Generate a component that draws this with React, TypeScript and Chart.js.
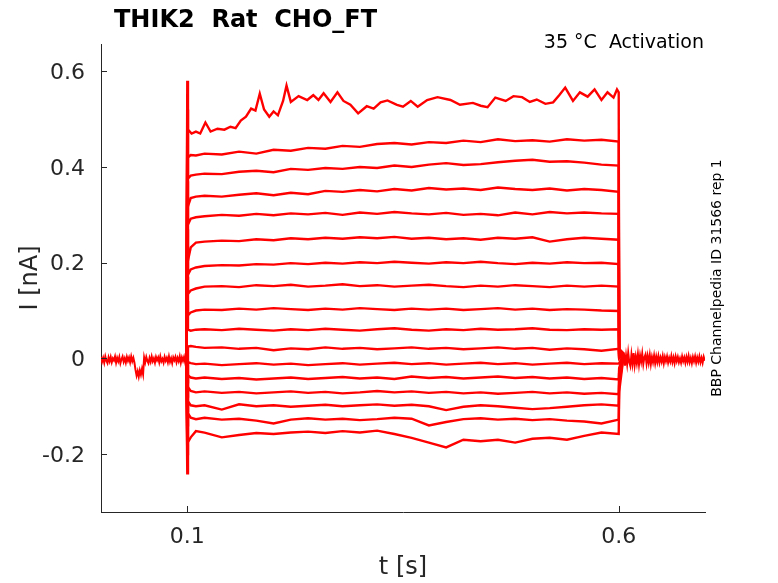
import { useEffect, useRef } from "react";
import { Chart, registerables } from "chart.js";

Chart.register(...registerables);

// ---- holding current before and after the voltage step (sample period 1.25 ms) ----
const holdSample = 0.00125;
const holdPreStart = 0;
const holdPreCurrent = [
  0.003, -0.007, 0.001, -0.009, 0.004, -0.005, -0.01, 0.002, -0.006, 0.003,
  -0.008, 0.0, -0.004, 0.004, -0.009, 0.001, -0.006, 0.003, -0.01, -0.002,
  0.004, -0.007, 0.0, -0.009, 0.003, -0.005, 0.002, -0.008, 0.004, -0.006,
  0.001, -0.009, -0.024, -0.036, -0.027, -0.038, -0.025, -0.034, -0.022, -0.033,
  0.002, -0.008, 0.003, -0.005, -0.01, 0.001, -0.007, 0.004, -0.006, 0.0,
  -0.009, 0.003, -0.004, 0.002, -0.008, 0.004, -0.006, -0.001, -0.009, 0.003,
  -0.005, 0.001, -0.008, 0.004, -0.007, 0.0, -0.01, 0.002, -0.004, 0.003,
  -0.008, 0.001, -0.006, 0.004, -0.009, 0.002, -0.005, 0.003, -0.008, 0.001,
];
const holdPostStart = 0.606;
const holdPostCurrent = [
  0.01, -0.015, 0.006, -0.012, 0.012, -0.008, -0.016, 0.008, -0.011, 0.011,
  -0.014, 0.004, -0.01, 0.009, -0.013, 0.006, -0.007, 0.01, -0.012, 0.002,
  0.008, -0.011, 0.005, -0.009, 0.007, -0.012, 0.003, -0.008, 0.006, -0.01,
  0.004, -0.008, 0.005, -0.009, 0.002, -0.007, 0.005, -0.01, 0.003, -0.006,
  0.004, -0.009, 0.001, -0.007, 0.005, -0.008, 0.002, -0.01, 0.004, -0.006,
  0.003, -0.008, 0.0, -0.009, 0.004, -0.006, 0.002, -0.009, 0.003, -0.007,
  0.005, -0.008, 0.001, -0.01, 0.003, -0.006, 0.004, -0.009, 0.002, -0.007,
  0.004, -0.008, 0.001, -0.009, 0.003, -0.005,
];

// ---- top sweep, sampled on its own time base ----
const sweep1Times = [0.1008, 0.105, 0.11, 0.115, 0.121, 0.127, 0.135, 0.143, 0.15, 0.156, 0.162, 0.168, 0.174, 0.179, 0.184, 0.189, 0.195, 0.2, 0.205, 0.211, 0.215, 0.22, 0.229, 0.239, 0.246, 0.252, 0.258, 0.266, 0.274, 0.281, 0.289, 0.298, 0.308, 0.316, 0.324, 0.332, 0.343, 0.35, 0.359, 0.367, 0.378, 0.39, 0.405, 0.416, 0.431, 0.44, 0.448, 0.457, 0.469, 0.478, 0.488, 0.497, 0.505, 0.515, 0.524, 0.531, 0.538, 0.547, 0.555, 0.564, 0.572, 0.58, 0.587, 0.594, 0.598, 0.6];
const sweep1Current = [0.478, 0.47, 0.474, 0.47, 0.493, 0.474, 0.48, 0.478, 0.484, 0.481, 0.497, 0.505, 0.522, 0.518, 0.553, 0.52, 0.505, 0.516, 0.508, 0.538, 0.57, 0.536, 0.548, 0.54, 0.55, 0.54, 0.554, 0.536, 0.556, 0.538, 0.53, 0.512, 0.527, 0.522, 0.535, 0.539, 0.53, 0.526, 0.538, 0.526, 0.54, 0.546, 0.54, 0.53, 0.534, 0.528, 0.525, 0.545, 0.538, 0.548, 0.546, 0.536, 0.541, 0.532, 0.535, 0.55, 0.566, 0.538, 0.556, 0.547, 0.562, 0.54, 0.556, 0.545, 0.562, 0.556];

// ---- other sweeps, on a shared time base ----
const stepTimes = [0.1008, 0.104, 0.11, 0.12, 0.14, 0.16, 0.18, 0.2, 0.22, 0.24, 0.26, 0.28, 0.3, 0.32, 0.34, 0.36, 0.38, 0.4, 0.42, 0.44, 0.46, 0.48, 0.5, 0.52, 0.54, 0.56, 0.58, 0.6];
const sweep2 = [0.42, 0.425, 0.424, 0.428, 0.426, 0.432, 0.428, 0.436, 0.434, 0.44, 0.438, 0.444, 0.442, 0.448, 0.45, 0.447, 0.452, 0.45, 0.455, 0.452, 0.458, 0.454, 0.456, 0.453, 0.458, 0.455, 0.457, 0.453];
const sweep3 = [0.376, 0.382, 0.384, 0.386, 0.385, 0.39, 0.392, 0.389, 0.396, 0.394, 0.398, 0.396, 0.4, 0.398, 0.403, 0.4, 0.405, 0.408, 0.404, 0.406, 0.41, 0.413, 0.415, 0.411, 0.412, 0.409, 0.405, 0.403];
const sweep4 = [0.318, 0.335, 0.338, 0.34, 0.338, 0.342, 0.345, 0.341, 0.346, 0.343, 0.35, 0.348, 0.352, 0.349, 0.354, 0.351, 0.356, 0.353, 0.355, 0.352, 0.357, 0.354, 0.352, 0.355, 0.351, 0.354, 0.352, 0.348];
const sweep5 = [0.28, 0.292, 0.295, 0.297, 0.3, 0.298, 0.302, 0.299, 0.303, 0.301, 0.304, 0.3, 0.305, 0.302, 0.306, 0.303, 0.301, 0.304, 0.3, 0.302, 0.299, 0.305, 0.301, 0.306, 0.303, 0.305, 0.303, 0.302];
const sweep6 = [0.205, 0.232, 0.242, 0.244, 0.246, 0.245, 0.249, 0.247, 0.251, 0.249, 0.252, 0.25, 0.253, 0.251, 0.254, 0.25, 0.252, 0.249, 0.251, 0.248, 0.252, 0.25, 0.253, 0.244, 0.249, 0.252, 0.25, 0.248];
const sweep7 = [0.175, 0.186, 0.19, 0.193, 0.195, 0.194, 0.197, 0.196, 0.199, 0.197, 0.2, 0.198, 0.201, 0.199, 0.202, 0.2, 0.198, 0.201, 0.199, 0.202, 0.199, 0.197, 0.2, 0.198, 0.201, 0.199, 0.2, 0.197];
const sweep8 = [0.135, 0.142, 0.146, 0.15, 0.151, 0.149, 0.153, 0.151, 0.154, 0.15, 0.152, 0.155, 0.151, 0.153, 0.15, 0.152, 0.154, 0.151, 0.149, 0.152, 0.15, 0.153, 0.151, 0.149, 0.152, 0.15, 0.152, 0.15];
const sweep9 = [0.09, 0.096, 0.1, 0.102, 0.101, 0.104, 0.102, 0.105, 0.103, 0.101, 0.104, 0.102, 0.105, 0.103, 0.101, 0.104, 0.102, 0.104, 0.101, 0.103, 0.105, 0.102, 0.104, 0.101, 0.103, 0.102, 0.1, 0.099];
const sweep10 = [0.06, 0.058, 0.06, 0.061, 0.059, 0.062, 0.06, 0.058, 0.061, 0.059, 0.062, 0.06, 0.058, 0.061, 0.063, 0.06, 0.058, 0.061, 0.059, 0.062, 0.06, 0.061, 0.063, 0.06, 0.059, 0.061, 0.06, 0.061];
const sweep11 = [0.025, 0.026, 0.024, 0.022, 0.023, 0.02, 0.022, 0.017, 0.021, 0.019, 0.023, 0.02, 0.022, 0.019, 0.021, 0.023, 0.02, 0.022, 0.019, 0.021, 0.023, 0.02, 0.022, 0.018, 0.021, 0.019, 0.016, 0.02];
const sweep12 = [-0.008, -0.01, -0.012, -0.011, -0.014, -0.012, -0.01, -0.013, -0.011, -0.014, -0.012, -0.01, -0.013, -0.011, -0.009, -0.012, -0.01, -0.013, -0.011, -0.009, -0.012, -0.01, -0.013, -0.011, -0.009, -0.012, -0.01, -0.011];
const sweep13 = [-0.035, -0.04, -0.042, -0.04, -0.043, -0.041, -0.044, -0.042, -0.04, -0.043, -0.041, -0.039, -0.042, -0.04, -0.043, -0.038, -0.041, -0.039, -0.042, -0.04, -0.038, -0.041, -0.039, -0.042, -0.04, -0.043, -0.041, -0.044];
const sweep14 = [-0.06, -0.068, -0.071, -0.069, -0.072, -0.07, -0.073, -0.071, -0.069, -0.072, -0.07, -0.073, -0.071, -0.068, -0.071, -0.069, -0.072, -0.07, -0.073, -0.071, -0.074, -0.072, -0.07, -0.073, -0.071, -0.074, -0.072, -0.075];
const sweep15 = [-0.09, -0.098, -0.1, -0.098, -0.107, -0.096, -0.1, -0.098, -0.101, -0.099, -0.097, -0.1, -0.098, -0.096, -0.099, -0.097, -0.1, -0.108, -0.101, -0.098, -0.1, -0.103, -0.106, -0.104, -0.101, -0.098, -0.096, -0.099];
const sweep16 = [-0.115, -0.124, -0.127, -0.124, -0.128, -0.126, -0.13, -0.136, -0.128, -0.125, -0.128, -0.126, -0.129, -0.127, -0.124, -0.126, -0.14, -0.133, -0.127, -0.125, -0.128, -0.126, -0.129, -0.127, -0.13, -0.132, -0.136, -0.128];
const sweep17 = [-0.175, -0.165, -0.152, -0.155, -0.165, -0.16, -0.156, -0.158, -0.155, -0.153, -0.156, -0.152, -0.155, -0.151, -0.158, -0.166, -0.176, -0.186, -0.17, -0.173, -0.17, -0.176, -0.168, -0.166, -0.17, -0.162, -0.155, -0.158];

// capacitive transient peaks at step onset, and tail value just after step end
const onsetPeak = [0.58, 0.52, 0.47, 0.42, 0.37, 0.32, 0.27, 0.22, 0.17, 0.12, -0.05, -0.08, -0.11, -0.14, -0.17, -0.2, -0.24];
const offsetTail = [0.02, 0.015, 0.012, 0.01, 0.008, 0.006, 0.005, 0.004, 0.003, 0.002, 0.0, -0.01, -0.02, -0.03, -0.045, -0.055, -0.07];

const xTicks = [0.1, 0.6];
const yTicks = [-0.2, 0, 0.2, 0.4, 0.6];

const TITLE = "THIK2  Rat  CHO_FT";
const CONDITION = "35 °C  Activation";
const SIDE_NOTE = "BBP Channelpedia ID 31566 rep 1";

const FONT = "'DejaVu Sans', sans-serif";
const AXIS = "#262626";
const LINE_RED = "#ff0000";

export default function App() {
  const canvasRef = useRef<HTMLCanvasElement | null>(null);

  useEffect(() => {
    const canvas = canvasRef.current;
    if (!canvas) return;

    const prePts = holdPreCurrent.map((v, i) => ({ x: holdPreStart + i * holdSample, y: v }));
    const postPts = holdPostCurrent.map((v, i) => ({ x: Math.min(0.7, holdPostStart + i * holdSample), y: v }));

    const sweeps: { times: number[]; vals: number[] }[] = [
      { times: sweep1Times, vals: sweep1Current },
      ...[sweep2, sweep3, sweep4, sweep5, sweep6, sweep7, sweep8, sweep9, sweep10, sweep11, sweep12, sweep13, sweep14, sweep15, sweep16, sweep17].map((v) => ({ times: stepTimes, vals: v })),
    ];

    const datasets: any[] = [];
    const holdStyle = { borderColor: LINE_RED, borderWidth: 2, pointRadius: 0, tension: 0, fill: false };
    const sweepStyle = { borderColor: LINE_RED, borderWidth: 2.4, pointRadius: 0, tension: 0, fill: false };
    datasets.push({ ...holdStyle, data: prePts });
    datasets.push({ ...holdStyle, data: postPts });
    sweeps.forEach((s, k) => {
      const pts: { x: number; y: number }[] = [];
      pts.push(prePts[prePts.length - 1]);
      pts.push({ x: 0.1, y: onsetPeak[k] });
      s.times.forEach((t, i) => pts.push({ x: t, y: s.vals[i] }));
      pts.push({ x: 0.6005, y: offsetTail[k] });
      pts.push(postPts[0]);
      datasets.push({ ...sweepStyle, data: pts });
    });

    const decor = {
      id: "decor",
      afterDraw(chart: any) {
        const { ctx, chartArea, scales } = chart;
        const xs = scales.x;
        const ys = scales.y;
        ctx.save();
        // inward ticks
        ctx.strokeStyle = AXIS;
        ctx.lineWidth = 1;
        ctx.beginPath();
        yTicks.forEach((v) => {
          const y = Math.round(ys.getPixelForValue(v)) + 0.5;
          ctx.moveTo(chartArea.left, y);
          ctx.lineTo(chartArea.left + 6, y);
        });
        xTicks.forEach((v) => {
          const x = Math.round(xs.getPixelForValue(v)) + 0.5;
          ctx.moveTo(x, chartArea.bottom);
          ctx.lineTo(x, chartArea.bottom - 6);
        });
        ctx.stroke();

        // title
        ctx.fillStyle = "#000";
        ctx.font = `bold 24px ${FONT}`;
        ctx.textAlign = "left";
        ctx.textBaseline = "alphabetic";
        ctx.fillText(TITLE, 114, 27);

        // condition
        ctx.font = `19px ${FONT}`;
        ctx.textAlign = "right";
        ctx.fillText(CONDITION, 704, 47.5);

        // side note, rotated
        ctx.translate(721, 278);
        ctx.rotate(-Math.PI / 2);
        ctx.font = `14px ${FONT}`;
        ctx.textAlign = "center";
        ctx.textBaseline = "alphabetic";
        ctx.fillText(SIDE_NOTE, 0, 0);
        ctx.restore();
      },
    };

    const chart = new Chart(canvas, {
      type: "line",
      data: { datasets },
      options: {
        animation: false,
        responsive: true,
        maintainAspectRatio: false,
        parsing: false as any,
        normalized: true,
        layout: { padding: { left: 0, right: 73, top: 44, bottom: 0 } },
        plugins: {
          legend: { display: false },
          tooltip: { enabled: false },
          title: { display: false },
        },
        scales: {
          x: {
            type: "linear",
            min: 0,
            max: 0.7,
            grid: { display: false, drawTicks: false },
            border: { display: true, color: AXIS, width: 1 },
            afterBuildTicks: (scale: any) => {
              scale.ticks = xTicks.map((v) => ({ value: v }));
            },
            afterFit: (scale: any) => {
              scale.height = 71;
            },
            ticks: {
              color: AXIS,
              font: { family: FONT, size: 22 },
              padding: 12,
              maxRotation: 0,
              autoSkip: false,
              callback: (v: any) => String(v),
            },
            title: {
              display: true,
              text: "t [s]",
              color: AXIS,
              font: { family: FONT, size: 24 },
              padding: { top: 0, bottom: 1 },
            },
          },
          y: {
            type: "linear",
            min: -0.321,
            max: 0.657,
            grid: { display: false, drawTicks: false },
            border: { display: true, color: AXIS, width: 1 },
            afterBuildTicks: (scale: any) => {
              scale.ticks = yTicks.map((v) => ({ value: v }));
            },
            afterFit: (scale: any) => {
              scale.width = 101;
            },
            ticks: {
              color: AXIS,
              font: { family: FONT, size: 22 },
              padding: 16,
              labelOffset: 2,
              autoSkip: false,
              callback: (v: any) => String(v),
            },
            title: {
              display: true,
              text: "I [nA]",
              color: AXIS,
              font: { family: FONT, size: 24 },
              padding: { top: 16, bottom: 0 },
            },
          },
        },
      },
      plugins: [decor],
    });

    return () => chart.destroy();
  }, []);

  return (
    <div style={{ position: "absolute", left: 0, top: 0, width: 778, height: 583, background: "#fff" }}>
      <canvas ref={canvasRef} />
    </div>
  );
}
